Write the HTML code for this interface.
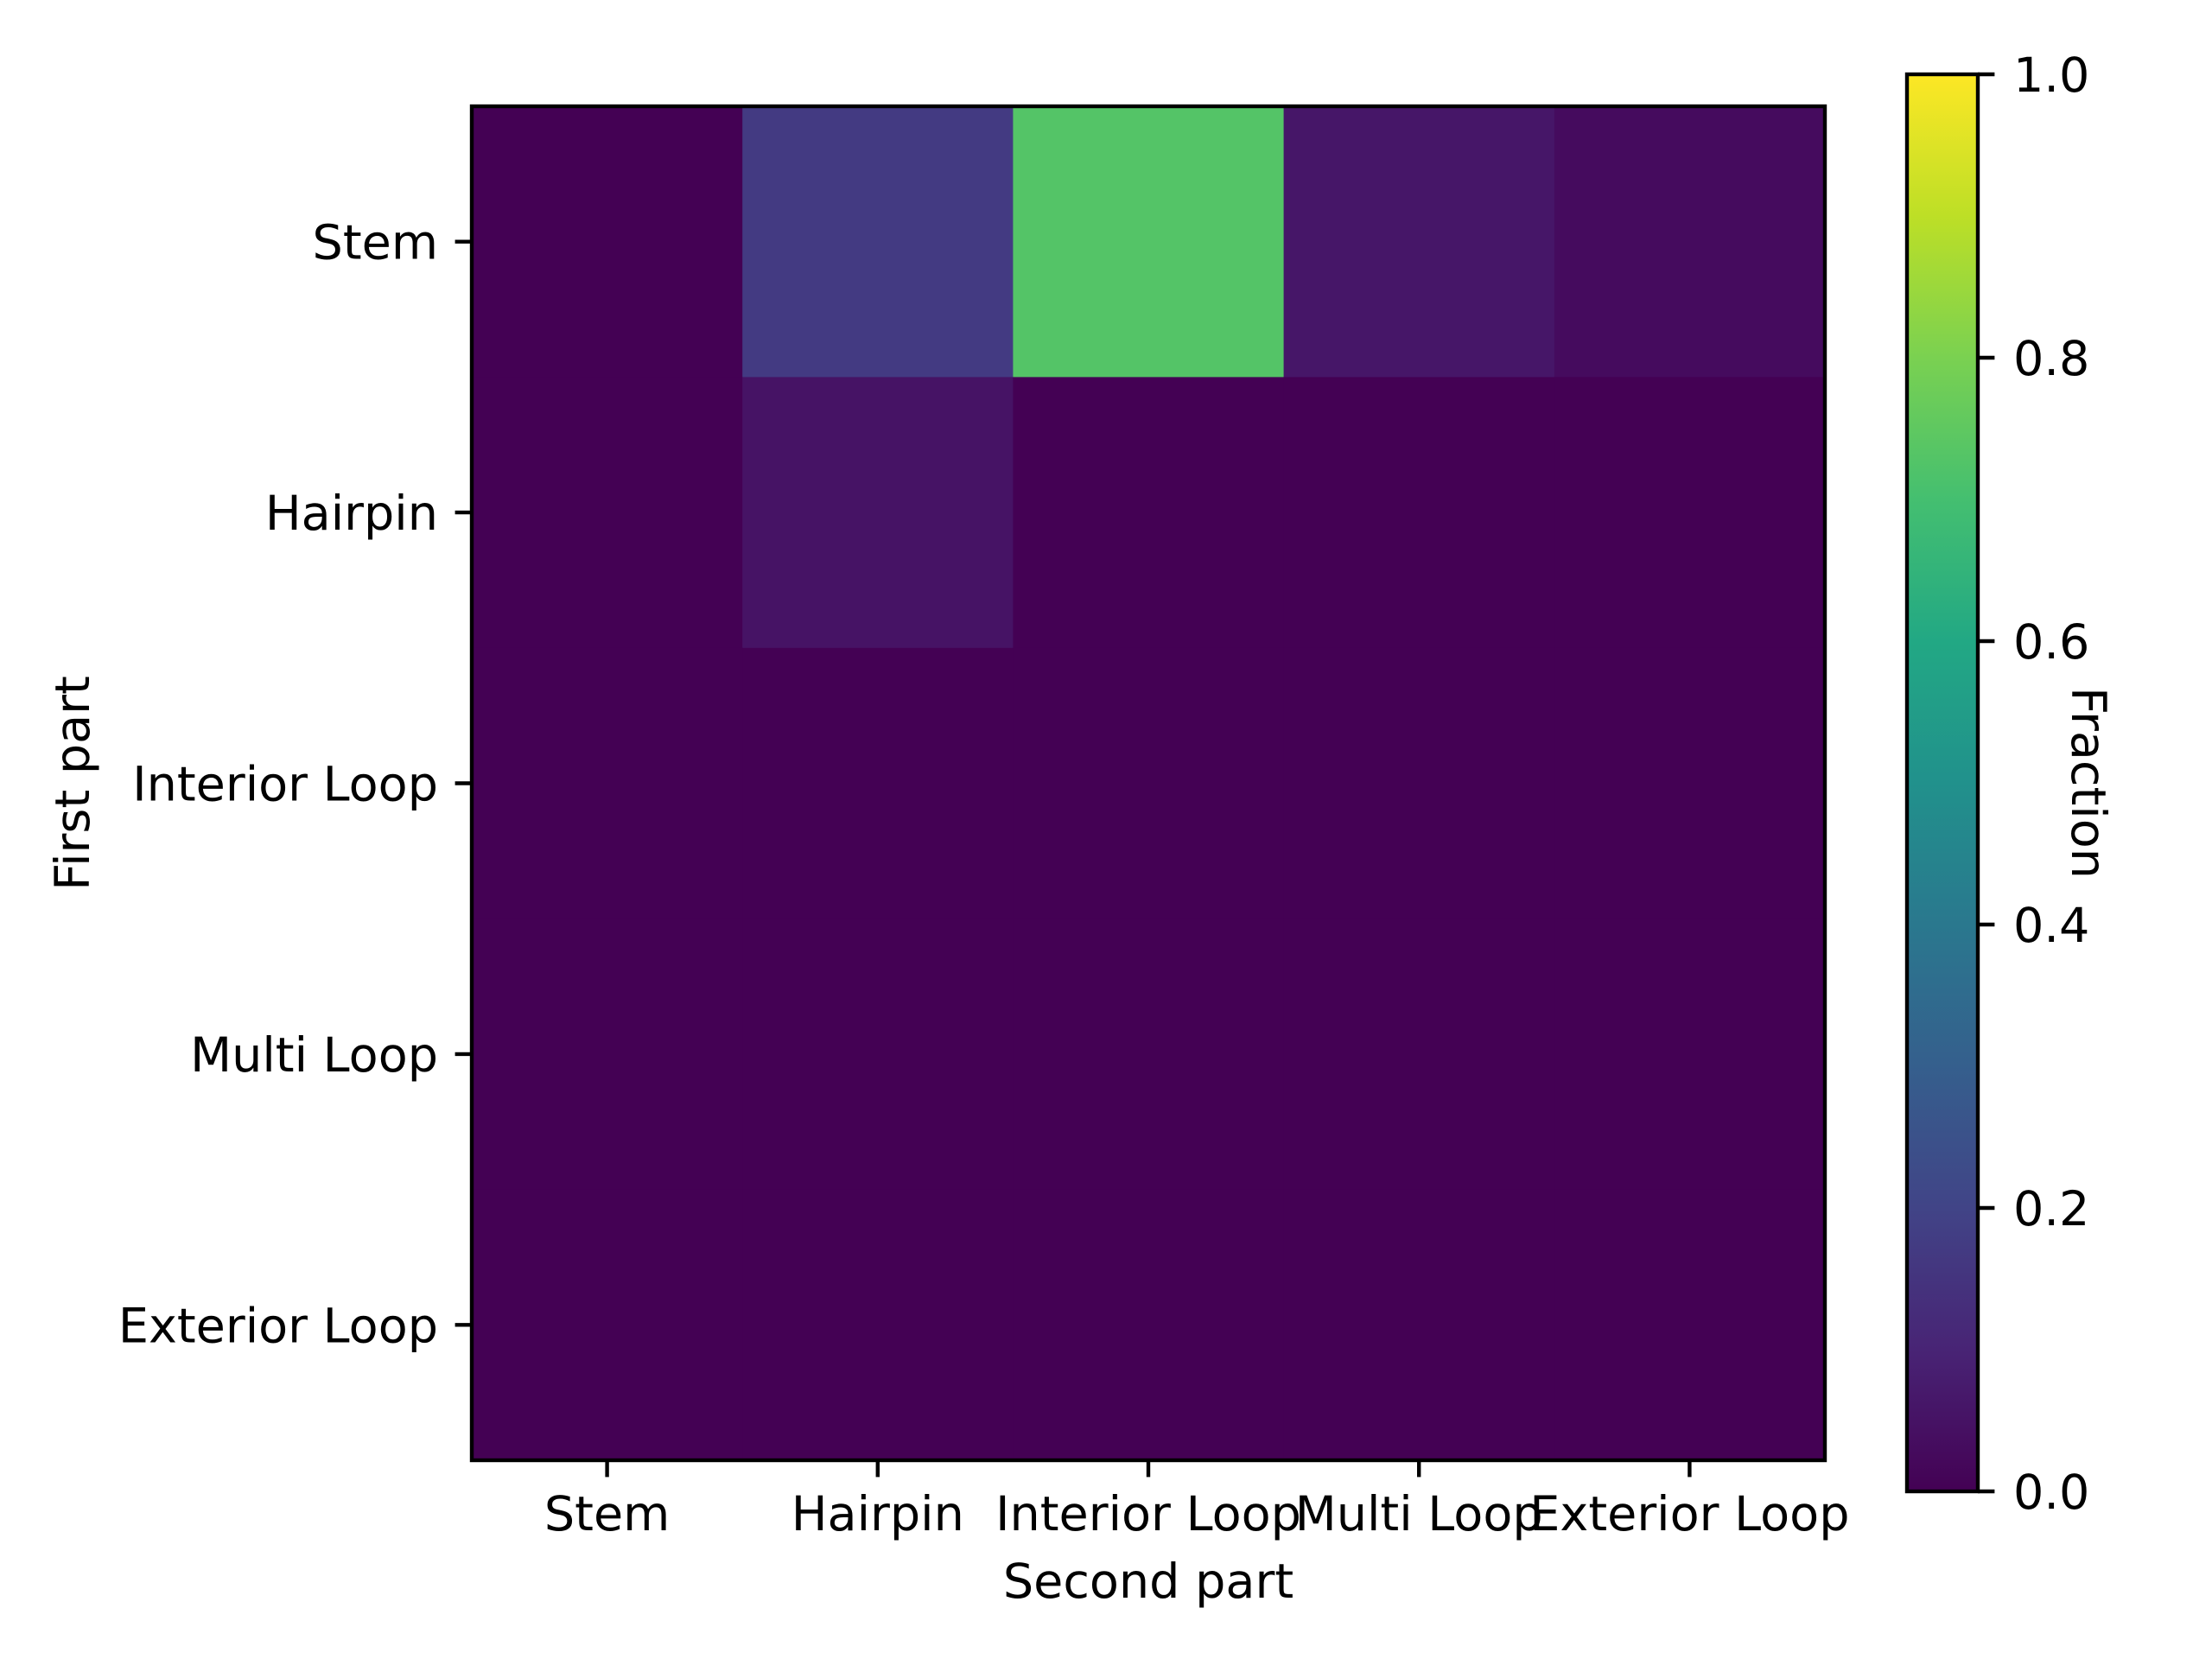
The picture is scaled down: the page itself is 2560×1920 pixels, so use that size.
<!DOCTYPE html>
<html><head><meta charset="utf-8"><style>
html,body{margin:0;padding:0;background:#fff;}
svg{display:block;}
text{font-family:"DejaVu Sans","Liberation Sans",sans-serif;font-size:55.6px;fill:#000;}
</style></head><body>
<svg id="chart" width="2560" height="1920" viewBox="0 0 2560 1920">
<defs>
<linearGradient id="viridis" x1="0" y1="1" x2="0" y2="0">
<stop offset="0" stop-color="#440154"/><stop offset="0.1" stop-color="#482475"/><stop offset="0.2" stop-color="#414487"/><stop offset="0.3" stop-color="#355f8d"/><stop offset="0.4" stop-color="#2a788e"/><stop offset="0.5" stop-color="#21918c"/><stop offset="0.6" stop-color="#22a884"/><stop offset="0.7" stop-color="#44bf70"/><stop offset="0.8" stop-color="#7ad151"/><stop offset="0.9" stop-color="#bddf26"/><stop offset="1" stop-color="#fde725"/>
</linearGradient>
</defs>
<g id="cells"></g>
<g id="axes"></g>
<g id="cbar"></g>
</svg>
<script>
const rowLabels = ["Stem","Hairpin","Interior Loop","Multi Loop","Exterior Loop"];
const colLabels = ["Stem","Hairpin","Interior Loop","Multi Loop","Exterior Loop"];
const rowStem = [0, 0.17, 0.73, 0.06, 0.03];
const rowHairpin = [0, 0.05, 0, 0, 0];
const rowInterior = [0, 0, 0, 0, 0];
const rowMulti = [0, 0, 0, 0, 0];
const rowExterior = [0, 0, 0, 0, 0];
const cbarTicks = [0, 0.2, 0.4, 0.6, 0.8, 1.0];
const cbarTickLabels = ["0.0","0.2","0.4","0.6","0.8","1.0"];

const values = [rowStem, rowHairpin, rowInterior, rowMulti, rowExterior];
const NS = "http://www.w3.org/2000/svg";
const L = 546, T = 123, W = 1566, H = 1567;
const cw = W / colLabels.length, ch = H / rowLabels.length;
const xCenter = i => L + cw * (i + 0.5);
const yCenter = i => T + ch * (i + 0.5);
const CB = {x: 2207, w: 82, top: 86, bot: 1726};
const cbY = v => CB.bot - (CB.bot - CB.top) * v;
const stops = ["#440154","#482475","#414487","#355f8d","#2a788e","#21918c","#22a884","#44bf70","#7ad151","#bddf26","#fde725"];
function viridis(v){
  v = Math.max(0, Math.min(1, v));
  const p = v * 10, i = Math.min(9, Math.floor(p)), f = p - i;
  const a = stops[i], b = stops[i+1];
  const c = k => Math.round(parseInt(a.substr(k,2),16)*(1-f) + parseInt(b.substr(k,2),16)*f);
  return `rgb(${c(1)},${c(3)},${c(5)})`;
}
function mk(tag, attrs, parent){
  const e = document.createElementNS(NS, tag);
  for (const k in attrs) e.setAttribute(k, attrs[k]);
  parent.appendChild(e);
  return e;
}
const cells = document.getElementById('cells');
values.forEach((row, r) => row.forEach((v, c) => {
  const rect = mk('rect', {x: L + c*cw, y: T + r*ch, width: cw + 0.6, height: ch + 0.6, fill: viridis(v)}, cells);
  
  
}));
const ax = document.getElementById('axes');
const frame = mk('rect', {x: L, y: T, width: W, height: H, fill: 'none', stroke: '#000', 'stroke-width': 4.4}, ax);


rowLabels.forEach((lab, i) => {
  const y = yCenter(i);
  const tk = mk('line', {x1: L - 19.4, x2: L, y1: y, y2: y, stroke: '#000', 'stroke-width': 4.4}, ax);
  
  
  const t = mk('text', {x: 507, y: y + 20, 'text-anchor': 'end'}, ax);
  t.textContent = lab;
  
  
});
colLabels.forEach((lab, i) => {
  const x = xCenter(i);
  const tk = mk('line', {x1: x, x2: x, y1: T + H, y2: T + H + 19.4, stroke: '#000', 'stroke-width': 4.4}, ax);
  
  
  const t = mk('text', {x: x, y: 1771, 'text-anchor': 'middle'}, ax);
  t.textContent = lab;
  
  
});
const xt = mk('text', {x: L + W/2, y: 1849, 'text-anchor': 'middle'}, ax);
xt.textContent = 'Second part';


const yt = mk('text', {x: 0, y: 0, 'text-anchor': 'middle', transform: `translate(103,${T + H/2}) rotate(-90)`}, ax);
yt.textContent = 'First part';



const cb = document.getElementById('cbar');
const bar = mk('rect', {x: CB.x, y: CB.top, width: CB.w, height: CB.bot - CB.top, fill: 'url(#viridis)', stroke: '#000', 'stroke-width': 4.4}, cb);


cbarTicks.forEach((v, i) => {
  const y = cbY(v);
  const tk = mk('line', {x1: CB.x + CB.w, x2: CB.x + CB.w + 19.4, y1: y, y2: y, stroke: '#000', 'stroke-width': 4.4}, cb);
  
  
  const t = mk('text', {x: 2330, y: y + 20}, cb);
  t.textContent = cbarTickLabels[i];
  
  
});
const ct = mk('text', {x: 0, y: 0, 'text-anchor': 'middle', transform: `translate(2398,${(CB.top + CB.bot)/2}) rotate(90)`}, cb);
ct.textContent = 'Fraction';


</script>
</body></html>
